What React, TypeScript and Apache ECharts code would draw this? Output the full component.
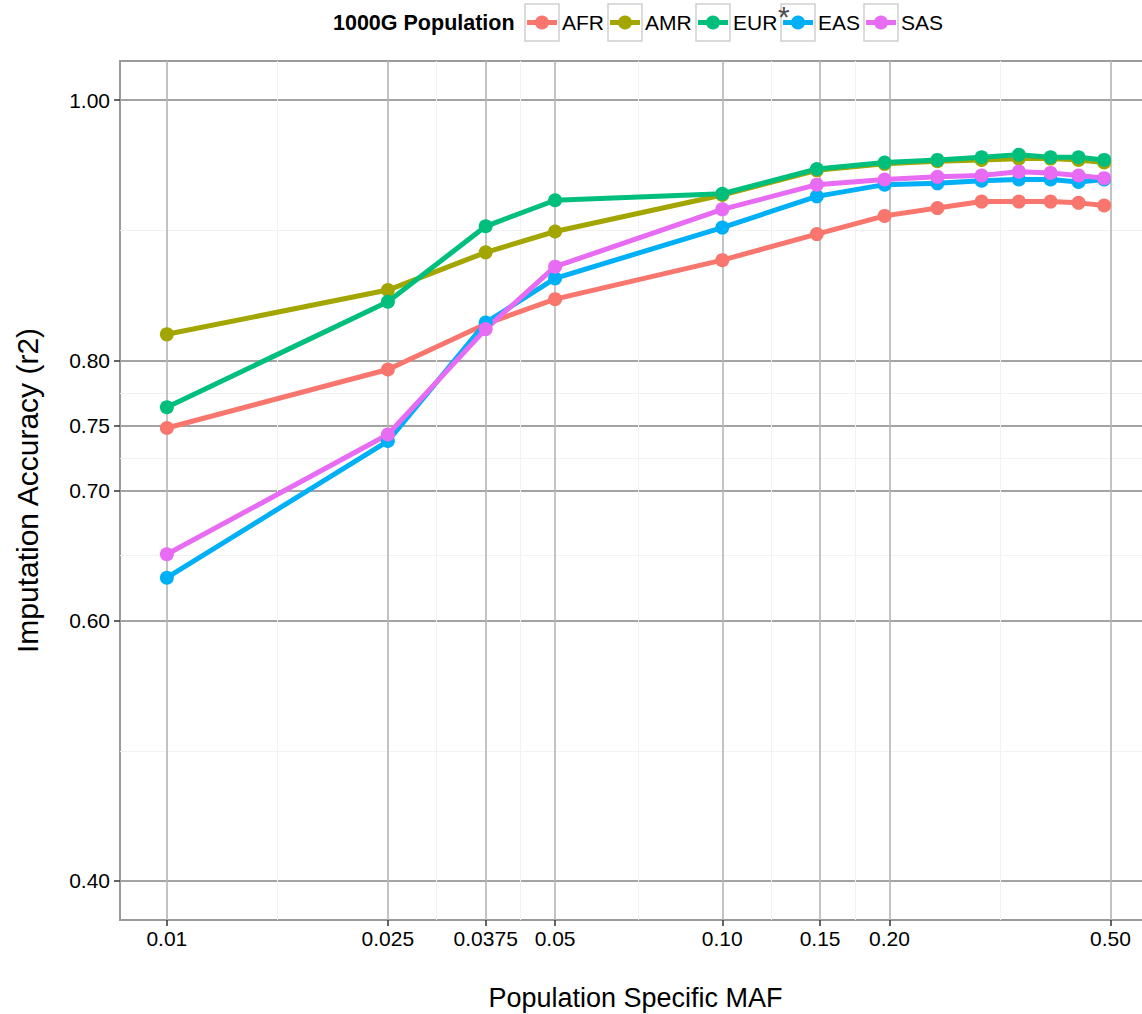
import React, { useEffect, useRef } from "react";
import * as echarts from "echarts";

// ---- data ----
const mafValues = [0.01, 0.025, 0.0375, 0.05, 0.1, 0.148, 0.196, 0.244, 0.293, 0.342, 0.39, 0.438, 0.487];
const populations = ["AFR", "AMR", "EUR", "EAS", "SAS"];
const popColors = ["#F8766D", "#A3A500", "#00BF7D", "#00B0F6", "#E76BF3"];

const afrValues = [0.748, 0.793, 0.828, 0.847, 0.877, 0.897, 0.911, 0.917, 0.922, 0.922, 0.922, 0.921, 0.919];
const amrValues = [0.82, 0.854, 0.883, 0.899, 0.927, 0.946, 0.951, 0.953, 0.954, 0.955, 0.955, 0.954, 0.952];
const eurValues = [0.764, 0.845, 0.903, 0.923, 0.928, 0.947, 0.952, 0.954, 0.956, 0.958, 0.956, 0.956, 0.954];
const easValues = [0.633, 0.738, 0.829, 0.863, 0.902, 0.926, 0.935, 0.936, 0.938, 0.939, 0.939, 0.937, 0.939];
const sasValues = [0.651, 0.743, 0.824, 0.872, 0.916, 0.935, 0.939, 0.941, 0.942, 0.945, 0.944, 0.942, 0.94];

const xTickValues = [0.01, 0.025, 0.0375, 0.05, 0.1, 0.15, 0.2, 0.5];
const xTickLabels = ["0.01", "0.025", "0.0375", "0.05", "0.10", "0.15", "0.20", "0.50"];
const xMinorValues = [0.0158, 0.0306, 0.0433, 0.0707, 0.1225, 0.1732, 0.3162];
const yTickValues = [0.4, 0.6, 0.7, 0.75, 0.8, 1.0];
const yMinorValues = [0.5, 0.65, 0.725, 0.775, 0.9];

const legendTitle = "1000G Population";
const xTitle = "Population Specific MAF";
const yTitle = "Imputation Accuracy (r2)";

const FONT = "'Liberation Sans', Arial, Helvetica, sans-serif";

export default function App() {
  const ref = useRef<HTMLDivElement>(null);

  useEffect(() => {
    document.body.style.margin = "0";
    if (!ref.current) return;
    const chart = echarts.init(ref.current, undefined, { renderer: "svg" });

    const seriesValues = [afrValues, amrValues, eurValues, easValues, sasValues];
    const lx = (v: number) => Math.log10(v);
    const lo = lx(mafValues[0]);
    const hi = lx(mafValues[mafValues.length - 1]);
    const xMin = lo - 0.05 * (hi - lo);
    const xMax = hi + 0.05 * (hi - lo);

    const xLabelFor = (v: number) => {
      let best = 0;
      let bd = Infinity;
      xTickValues.forEach((t, i) => {
        const d = Math.abs(lx(t) - v);
        if (d < bd) {
          bd = d;
          best = i;
        }
      });
      return xTickLabels[best];
    };

    // legend drawn as graphic keys (ggplot-style boxed keys)
    const keyBoxX = [525, 608, 696, 781, 864];
    const keyY = 4;
    const keyW = 34;
    const keyH = 37;
    const keyCY = keyY + keyH / 2;
    const legendEls: any[] = [];
    populations.forEach((name, i) => {
      const x = keyBoxX[i];
      legendEls.push({
        type: "rect",
        z: 0,
        shape: { x, y: keyY, width: keyW, height: keyH },
        style: { fill: "#ffffff", stroke: "#cfcfcf", lineWidth: 1.5 },
      });
      legendEls.push({
        type: "line",
        z: 1,
        shape: { x1: x + 2, y1: keyCY, x2: x + keyW - 2, y2: keyCY },
        style: { stroke: popColors[i], lineWidth: 5 },
      });
      legendEls.push({
        type: "circle",
        z: 2,
        shape: { cx: x + keyW / 2, cy: keyCY, r: 7 },
        style: { fill: popColors[i] },
      });
      legendEls.push({
        type: "text",
        z: 2,
        x: x + keyW + 3,
        y: keyCY,
        style: {
          text: name,
          fontFamily: FONT,
          fontSize: 21,
          fill: "#000",
          verticalAlign: "middle",
        },
      });
    });

    const option: any = {
      animation: false,
      backgroundColor: "#ffffff",
      textStyle: { fontFamily: FONT },
      grid: {
        left: 120,
        top: 61,
        right: -9,
        bottom: 94,
        show: true,
        borderColor: "#9a9a9a",
        borderWidth: 2,
        backgroundColor: "transparent",
        containLabel: false,
        outerBoundsMode: "none",
      },
      graphic: [
        {
          type: "text",
          x: 333,
          y: keyCY,
          style: {
            text: legendTitle,
            fontFamily: FONT,
            fontSize: 21.5,
            fontWeight: "bold",
            fill: "#000",
            verticalAlign: "middle",
          },
        },
        ...legendEls,
        {
          type: "text",
          x: 778,
          y: 1,
          z: 10,
          style: {
            text: "*",
            fontFamily: FONT,
            fontSize: 30,
            fill: "#4d4d4d",
            verticalAlign: "top",
          },
        },
      ],
      xAxis: [
        {
          type: "value",
          min: xMin,
          max: xMax,
          position: "bottom",
          name: xTitle,
          nameLocation: "middle",
          nameGap: 64,
          nameTextStyle: { fontSize: 27, color: "#000", fontFamily: FONT },
          axisLine: { show: false },
          axisTick: {
            show: true,
            length: 6,
            customValues: xTickValues.map(lx),
            lineStyle: { color: "#333", width: 1.5 },
          },
          axisLabel: {
            show: true,
            customValues: xTickValues.map(lx),
            formatter: (v: number) => xLabelFor(v),
            fontSize: 21,
            color: "#000",
            margin: 8,
            fontFamily: FONT,
          },
          splitLine: { show: true, lineStyle: { color: "#b4b4b4", width: 1.6 } },
        },
        {
          type: "value",
          min: xMin,
          max: xMax,
          position: "bottom",
          axisLine: { show: false },
          axisTick: { show: false, customValues: xMinorValues.map(lx) },
          axisLabel: { show: false, customValues: xMinorValues.map(lx) },
          splitLine: { show: true, lineStyle: { color: "#f2f2f2", width: 1 } },
        },
      ],
      yAxis: [
        {
          type: "value",
          min: 0.37,
          max: 1.03,
          name: yTitle,
          nameLocation: "middle",
          nameGap: 78,
          nameTextStyle: { fontSize: 30, color: "#000", fontFamily: FONT },
          axisLine: { show: false },
          axisTick: {
            show: true,
            length: 6,
            customValues: yTickValues,
            lineStyle: { color: "#333", width: 1.5 },
          },
          axisLabel: {
            show: true,
            customValues: yTickValues,
            formatter: (v: number) => v.toFixed(2),
            fontSize: 21,
            color: "#000",
            margin: 10,
            fontFamily: FONT,
          },
          splitLine: { show: true, lineStyle: { color: "#a3a3a3", width: 2.2 } },
        },
        {
          type: "value",
          min: 0.37,
          max: 1.03,
          axisLine: { show: false },
          axisTick: { show: false, customValues: yMinorValues },
          axisLabel: { show: false, customValues: yMinorValues },
          splitLine: { show: true, lineStyle: { color: "#f2f2f2", width: 1 } },
        },
      ],
      series: populations.map((name, i) => ({
        name,
        type: "line",
        xAxisIndex: 0,
        yAxisIndex: 0,
        data: mafValues.map((m, j) => [lx(m), seriesValues[i][j]]),
        symbol: "circle",
        symbolSize: 14,
        showSymbol: true,
        lineStyle: { width: 5, color: popColors[i] },
        itemStyle: { color: popColors[i] },
        color: popColors[i],
        emphasis: { disabled: true },
        z: 3,
      })),
    };

    chart.setOption(option);
    return () => {
      chart.dispose();
    };
  }, []);

  return <div ref={ref} style={{ width: 1142, height: 1014 }} />;
}
